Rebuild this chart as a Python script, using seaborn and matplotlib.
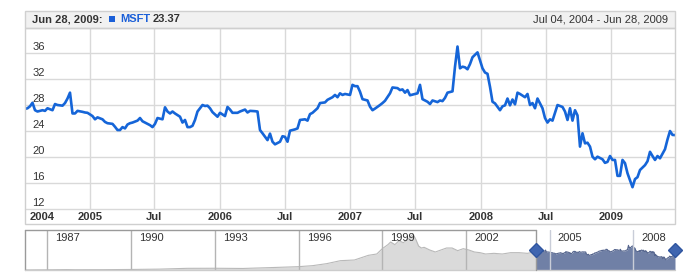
import matplotlib
matplotlib.use("Agg")
import matplotlib.pyplot as plt
import matplotlib.transforms as mtransforms
from matplotlib.patches import Rectangle
import seaborn as sns
import pandas as pd
import numpy as np

# ---------------- data ----------------
# weekly MSFT closes: week offset from 2004-07-04, price
weeks = [0, 1, 2, 3, 4, 5, 7, 8, 9, 11,
         12, 13, 15, 16, 17, 18, 19, 20, 21, 23,
         24, 25, 27, 28, 29, 31, 32, 33, 35, 36,
         37, 38, 39, 40, 41, 42, 43, 45, 46, 47,
         49, 50, 51, 52, 53, 55, 56, 57, 58, 59,
         60, 62, 63, 64, 65, 66, 67, 68, 69, 71,
         72, 73, 74, 75, 77, 78, 80, 81, 82, 83,
         85, 86, 88, 89, 90, 92, 93, 94, 95, 97,
         98, 99, 100, 102, 103, 104, 105, 106, 108, 109,
         110, 112, 113, 114, 115, 117, 118, 120, 121, 123,
         124, 125, 126, 127, 128, 130, 131, 132, 133, 134,
         135, 137, 138, 139, 140, 142, 143, 144, 146, 147,
         149, 150, 151, 152, 153, 154, 156, 157, 158, 159,
         161, 162, 163, 165, 166, 167, 168, 169, 171, 172,
         173, 174, 175, 176, 177, 178, 179, 181, 182, 183,
         184, 185, 186, 187, 188, 190, 191, 192, 193, 194,
         195, 196, 197, 198, 200, 201, 202, 203, 204, 205,
         206, 207, 208, 209, 210, 211, 213, 214, 215, 216,
         217, 218, 219, 220, 221, 222, 223, 224, 225, 226,
         227, 228, 229, 231, 232, 233, 234, 235, 236, 237,
         238, 239, 240, 241, 243, 244, 245, 246, 248, 249,
         250, 251, 252, 253, 254, 256, 257, 258, 259, 260]
prices = [27.4, 27.5, 27.8, 28.35, 27.2, 27.0, 27.2, 27.1, 27.5, 27.2,
          28.15, 28.0, 27.9, 28.3, 29.0, 29.9, 26.7, 26.7, 27.1, 26.95,
          26.85, 26.8, 26.3, 25.8, 26.1, 25.8, 25.4, 25.2, 25.1, 24.65,
          24.15, 24.15, 24.6, 24.4, 25.0, 25.2, 25.3, 25.6, 26.0, 25.5,
          25.1, 24.9, 24.6, 25.1, 26.0, 25.8, 27.65, 27.0, 26.7, 27.0,
          26.7, 26.2, 25.3, 25.7, 24.6, 24.6, 24.8, 25.7, 27.0, 28.0,
          27.85, 27.9, 27.5, 26.9, 26.2, 26.8, 26.3, 27.7, 27.3, 26.8,
          26.8, 27.0, 27.3, 26.85, 27.1, 27.05, 27.0, 24.15, 23.65, 22.6,
          23.6, 22.35, 21.95, 22.35, 23.2, 23.1, 22.35, 24.05, 24.25, 24.4,
          25.7, 25.8, 25.6, 26.6, 26.8, 27.5, 28.3, 28.4, 28.8, 29.2,
          29.55, 29.2, 29.8, 29.55, 29.7, 29.55, 31.1, 30.9, 30.9, 30.05,
          28.9, 28.7, 27.75, 27.2, 27.45, 28.0, 28.3, 28.65, 29.8, 30.7,
          30.6, 30.3, 30.4, 29.9, 30.3, 29.5, 29.7, 29.8, 31.1, 28.9,
          28.5, 28.15, 28.7, 28.45, 28.7, 28.6, 29.1, 29.9, 30.1, 33.9,
          37.0, 33.65, 33.9, 33.8, 33.5, 34.3, 35.35, 36.1, 34.9, 33.65,
          33.0, 32.8, 30.8, 28.5, 28.25, 27.2, 27.8, 27.95, 29.0, 27.95,
          28.85, 28.1, 29.9, 29.7, 29.2, 29.7, 28.0, 28.3, 27.5, 29.0,
          28.25, 27.5, 26.0, 25.3, 25.8, 25.6, 28.0, 27.85, 27.7, 27.0,
          25.7, 27.5, 25.6, 27.2, 26.4, 21.6, 23.65, 22.1, 22.2, 21.6,
          20.05, 19.65, 20.05, 19.65, 19.1, 19.25, 20.15, 19.55, 19.55, 17.1,
          17.1, 19.55, 19.05, 17.5, 15.35, 16.6, 16.9, 18.0, 18.75, 19.35,
          20.8, 20.15, 19.55, 20.15, 19.8, 21.2, 22.7, 24.0, 23.4, 23.37]

# long history for the navigator (before the selected range)
nav_years = [1986.2, 1987.0, 1987.7, 1988.0, 1989.0, 1990.0, 1991.0, 1992.0, 1993.0, 1994.0,
             1995.0, 1996.0, 1996.5, 1997.0, 1997.5, 1998.0, 1998.5, 1998.8, 1999.0, 1999.2,
             1999.3, 1999.45, 1999.6, 1999.75, 1999.9, 2000.1, 2000.2, 2000.3, 2000.4, 2000.5,
             2000.7, 2000.9, 2001.1, 2001.3, 2001.5, 2001.7, 2001.9, 2002.1, 2002.3, 2002.5,
             2002.7, 2003.0, 2003.3, 2003.6, 2003.9, 2004.2, 2004.5]
nav_prices = [0.1, 0.3, 0.6, 0.4, 0.5, 0.8, 1.3, 2.5, 2.6, 2.3,
              3.6, 5.0, 6.5, 9.5, 14.0, 15.0, 22.0, 24.0, 32.0, 38.0,
              42.0, 38.0, 44.0, 41.0, 45.0, 54.0, 46.0, 36.0, 33.0, 34.0,
              30.0, 27.0, 30.0, 33.0, 33.0, 29.0, 32.0, 30.0, 27.0, 26.0,
              24.0, 25.0, 24.0, 26.0, 26.0, 25.0, 27.4]

y_ticks = [12, 16, 20, 24, 28, 32, 36]
x_tick_dates = ["2004-07-04", "2005-01-01", "2005-07-01", "2006-01-01", "2006-07-01",
                "2007-01-01", "2007-07-01", "2008-01-01", "2008-07-01", "2009-01-01"]
x_tick_labels = ["2004", "2005", "Jul", "2006", "Jul", "2007", "Jul", "2008", "Jul", "2009"]
nav_tick_years = [1987, 1990, 1993, 1996, 1999, 2002, 2005, 2008]

header_date = "Jun 28, 2009:"
series_name = "MSFT"
last_value = "23.37"
range_text = "Jul 04, 2004 - Jun 28, 2009"

# ---------------- figure ----------------
sns.set_theme(style="white")
plt.rcParams["font.family"] = ["Liberation Sans", "DejaVu Sans"]

W, H = 700, 280
fig = plt.figure(figsize=(7, 2.8), dpi=100)
fig.patch.set_facecolor("white")


def fx(px):
    return px / W


def fy(py):
    return 1 - py / H


TXT = "#333333"
GRID = "#d9d9d9"
BLUE = "#1565d8"

start = pd.Timestamp("2004-07-04")
end = pd.Timestamp("2009-06-28")
dates = start + pd.to_timedelta(np.array(weeks) * 7, unit="D")
df = pd.DataFrame({"date": dates, "price": prices})

# header bar
fig.add_artist(Rectangle((fx(25), fy(28)), fx(675) - fx(25), fy(10.5) - fy(28),
                         transform=fig.transFigure, facecolor="#f1f1f1",
                         edgecolor="#d0d0d0", lw=1))
fig.text(fx(32), fy(19.5), header_date, ha="left", va="center", fontsize=8,
         fontweight="bold", color=TXT)
fig.add_artist(Rectangle((fx(109), fy(22)), fx(6), fx(6) * W / H,
                         transform=fig.transFigure, facecolor="#1a5fd8", edgecolor="none"))
fig.text(fx(120), fy(19.5), series_name, ha="left", va="center", fontsize=8,
         fontweight="bold", color="#1a5fd8")
fig.text(fx(152.5), fy(19.5), last_value, ha="left", va="center", fontsize=8,
         fontweight="bold", color=TXT)
fig.text(fx(668), fy(19.5), range_text, ha="right", va="center", fontsize=8, color=TXT)

# main plot
ax = fig.add_axes([fx(25), fy(209), fx(675) - fx(25), fy(28) - fy(209)])
ax.set_facecolor("white")
for v in y_ticks:
    ax.axhline(v, color=GRID, lw=1, zorder=0, clip_on=False)
for d in x_tick_dates[1:]:
    ax.axvline(pd.Timestamp(d), color=GRID, lw=1, zorder=0)
sns.lineplot(data=df, x="date", y="price", ax=ax, color=BLUE, lw=1.9, zorder=3)
ax.set_xlim(start, end)
ax.set_ylim(12, 39.85)
ax.set_xticks([])
ax.set_yticks([])
ax.set_xlabel("")
ax.set_ylabel("")
for s in ax.spines.values():
    s.set_visible(False)

ytr = mtransforms.blended_transform_factory(ax.transAxes, ax.transData)
for v in y_ticks:
    ax.annotate(str(v), xy=(0, v), xycoords=ytr, xytext=(5.2, 0.6),
                textcoords="offset points", ha="left", va="bottom", fontsize=8, color=TXT)

for i, (d, lab) in enumerate(zip(x_tick_dates, x_tick_labels)):
    if i == 0:
        ax.annotate(lab, xy=(pd.Timestamp(d), 0), xycoords=("data", "axes fraction"),
                    xytext=(3, -5.6), textcoords="offset points", ha="left", va="center",
                    fontsize=8, fontweight="bold", color=TXT)
    else:
        ax.annotate(lab, xy=(pd.Timestamp(d), 0), xycoords=("data", "axes fraction"),
                    xytext=(0, -5.6), textcoords="offset points", ha="center", va="center",
                    fontsize=8, fontweight="bold", color=TXT)

# frame around plot + label band
fig.add_artist(Rectangle((fx(25), fy(224)), fx(675) - fx(25), fy(28) - fy(224),
                         transform=fig.transFigure, fill=False, edgecolor="#cfcfcf", lw=1))

# navigator
nav_start = pd.Timestamp("1986-03-13")


def year_to_ts(y):
    yi = int(np.floor(y))
    return pd.Timestamp(f"{yi}-01-01") + pd.Timedelta(days=(y - yi) * 365.25)


nav_dates = [year_to_ts(y) for y in nav_years]
nav_df = pd.DataFrame({"date": nav_dates, "price": nav_prices})

axn = fig.add_axes([fx(25), fy(270), fx(675) - fx(25), fy(230) - fy(270)])
axn.set_facecolor("white")
axn.fill_between(nav_df["date"], nav_df["price"], 0, color="#dadada", lw=0, zorder=1)
sns.lineplot(data=nav_df, x="date", y="price", ax=axn, color="#b9b9b9", lw=0.8, zorder=2)
axn.fill_between(df["date"], df["price"], 0, color="#7080a6", lw=0, zorder=1)
sns.lineplot(data=df, x="date", y="price", ax=axn, color="#56668e", lw=0.8, zorder=2)
for yv in nav_tick_years:
    d = pd.Timestamp(f"{yv}-01-01")
    axn.axvline(d, color="#b4b4b4" if d < start else "#c9cdd8", lw=1, zorder=3)
    axn.annotate(str(yv), xy=(d, 1), xycoords=("data", "axes fraction"),
                 xytext=(5.8, -5.8), textcoords="offset points", ha="left", va="center",
                 fontsize=8, color=TXT)
axn.set_xlim(nav_start, end)
axn.set_ylim(0, 60)
axn.set_xticks([])
axn.set_yticks([])
axn.set_xlabel("")
axn.set_ylabel("")
for s in axn.spines.values():
    s.set_visible(False)

ntr = mtransforms.blended_transform_factory(axn.transData, axn.transAxes)
axn.plot([nav_start, start], [1, 1], transform=ntr, color="#9a9a9a", lw=1, clip_on=False, zorder=4)
axn.plot([nav_start, nav_start], [0, 1], transform=ntr, color="#9a9a9a", lw=1, clip_on=False, zorder=4)
axn.plot([nav_start, end], [0, 0], transform=ntr, color="#cccccc", lw=1, clip_on=False, zorder=4)
axn.plot([start, start], [0, 1], transform=ntr, color="#9a9a9a", lw=1, clip_on=False, zorder=4)
axn.plot([start, end], [0.5, 0.5], transform=ntr, ls="none", marker="D", ms=7.5,
         color="#3f65b0", mec="#2f559f", clip_on=False, zorder=5)

fig.savefig("out.png", dpi=100, facecolor="white")
